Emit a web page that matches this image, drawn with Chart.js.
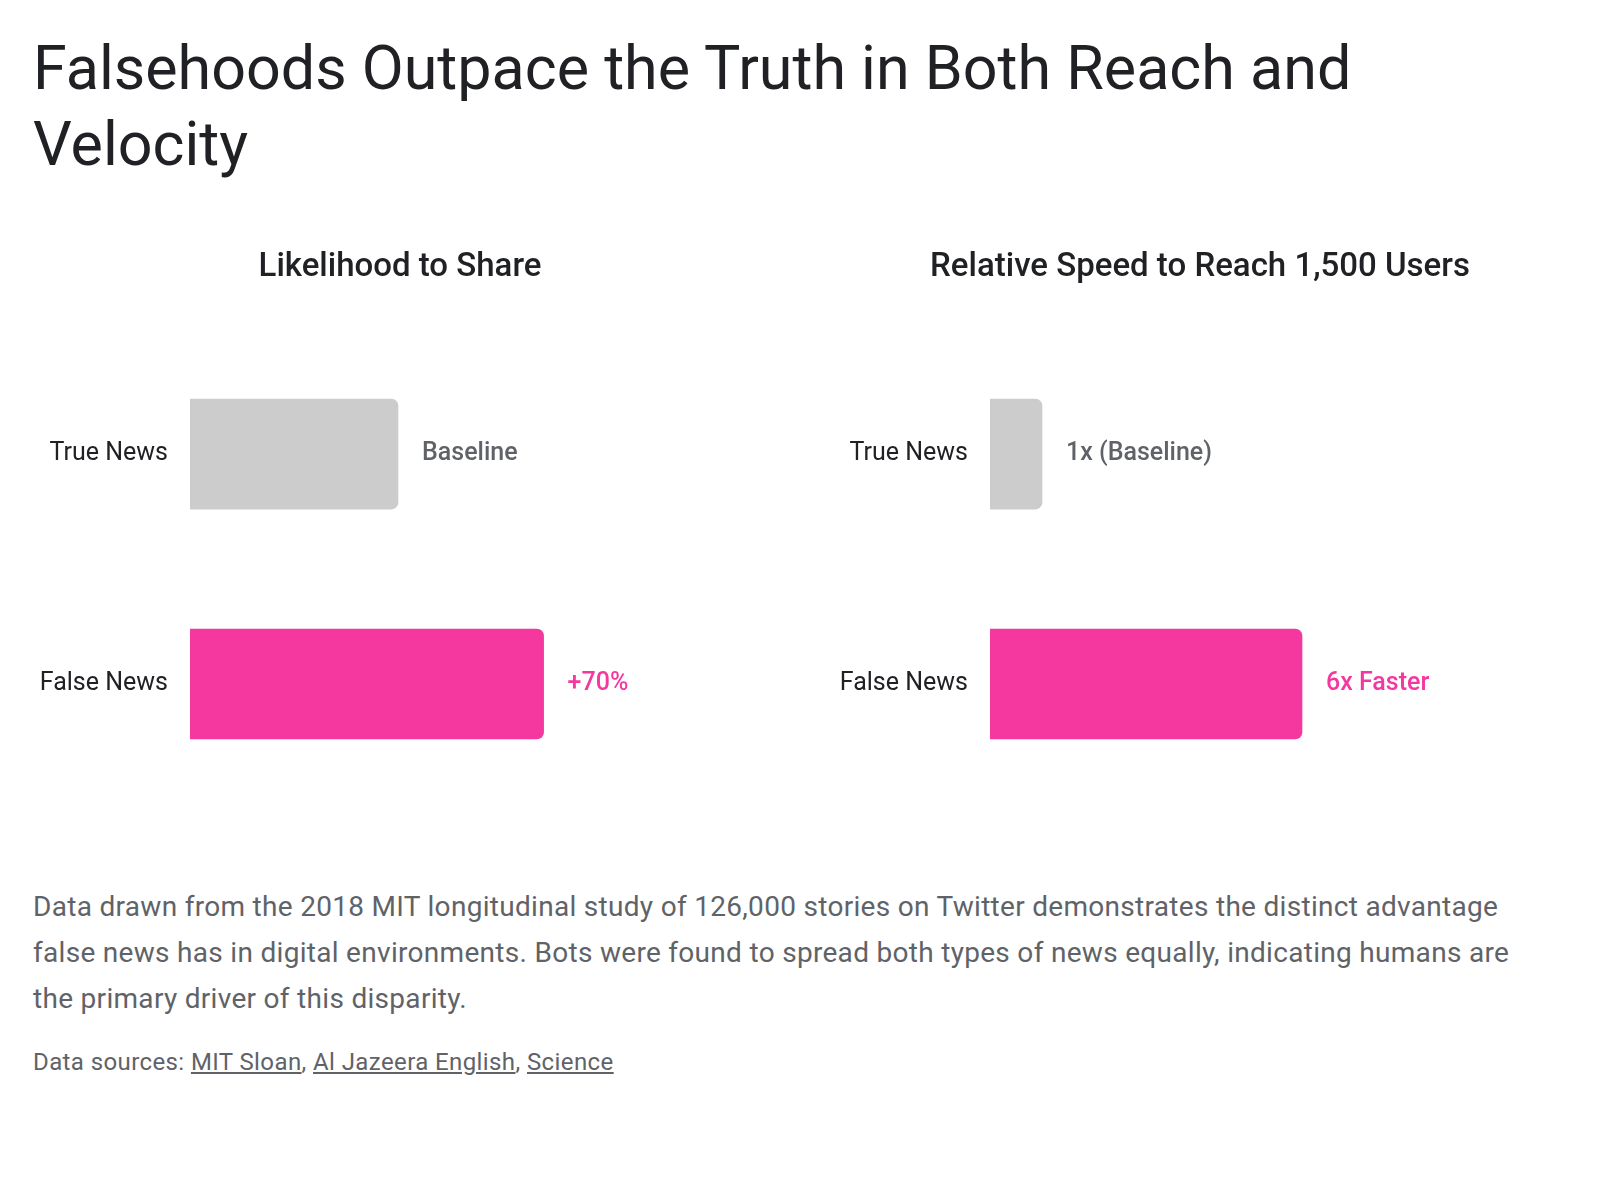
<!DOCTYPE html>
<html>
<head>
<meta charset="utf-8">
<script src="https://cdn.jsdelivr.net/npm/chart.js@4.4.1/dist/chart.umd.min.js"></script>
<style>
  body { margin: 0; background: #fff; font-family: Roboto, "Noto Sans", sans-serif; }
  .page { position: relative; width: 1600px; height: 1200px; }
  h1 { position: absolute; left: 33px; top: 30px; margin: 0; font-weight: 400; font-size: 61px; line-height: 76px; color: #202124; }
  .panel { position: absolute; top: 220px; width: 800px; height: 616px; }
  .desc { position: absolute; left: 33px; top: 884px; margin: 0; font-size: 28px; line-height: 46px; color: #5f6368; letter-spacing: 0.3px; }
  .src { position: absolute; left: 33px; top: 1048px; margin: 0; font-size: 24px; color: #5f6368; letter-spacing: 0.4px; }
  .src a { color: #5f6368; }
</style>
</head>
<body>
<div class="page">
  <h1>Falsehoods Outpace the Truth in Both Reach and<br>Velocity</h1>
  <div class="panel" style="left:0"><canvas id="share"></canvas></div>
  <div class="panel" style="left:800px"><canvas id="speed"></canvas></div>
  <p class="desc">Data drawn from the 2018 MIT longitudinal study of 126,000 stories on Twitter demonstrates the distinct advantage<br>false news has in digital environments. Bots were found to spread both types of news equally, indicating humans are<br>the primary driver of this disparity.</p>
  <p class="src">Data sources: <a href="#">MIT Sloan</a>, <a href="#">Al Jazeera English</a>, <a href="#">Science</a></p>
</div>
<script>
const categories = ["True News", "False News"];

const shareValues = [1, 1.7];
const shareLabels = ["Baseline", "+70%"];

const speedValues = [1, 6];
const speedLabels = ["1x (Baseline)", "6x Faster"];

const barColors = ["#cccccc", "#f538a0"];
const labelColors = ["#5f6368", "#f538a0"];

// draws the text after each bar end
const endLabels = {
  id: "endLabels",
  afterDatasetsDraw(chart, args, opts) {
    const ctx = chart.ctx;
    const meta = chart.getDatasetMeta(0);
    ctx.save();
    ctx.font = "500 25px Roboto, sans-serif";
    ctx.textBaseline = "middle";
    ctx.textAlign = "left";
    meta.data.forEach((bar, i) => {
      ctx.fillStyle = labelColors[i];
      ctx.fillText(opts.labels[i], bar.x + 24, bar.y);
    });
    ctx.restore();
  }
};

function makeChart(id, title, values, labels, max) {
  new Chart(document.getElementById(id), {
    type: "bar",
    data: {
      labels: categories,
      datasets: [{
        data: values,
        backgroundColor: barColors,
        borderRadius: { topRight: 7, bottomRight: 7, topLeft: 0, bottomLeft: 0 },
        borderSkipped: false,
        barThickness: 110
      }]
    },
    options: {
      indexAxis: "y",
      responsive: true,
      maintainAspectRatio: false,
      animation: false,
      layout: { padding: 0 },
      plugins: {
        legend: { display: false },
        tooltip: { enabled: false },
        title: {
          display: true,
          text: title,
          color: "#202124",
          font: { family: "Roboto, sans-serif", size: 33, weight: "500", lineHeight: 1.2 },
          padding: { top: 28, bottom: 51.5 }
        },
        endLabels: { labels: labels }
      },
      scales: {
        x: { display: false, min: 0, max: max },
        y: {
          grid: { display: false, drawTicks: false },
          border: { display: false },
          ticks: {
            color: "#202124",
            padding: 22,
            font: { family: "Roboto, sans-serif", size: 25 }
          },
          afterFit: s => { s.width = 190; }
        },
        // empty right-hand gutter that keeps room for the end labels
        gutter: {
          type: "linear",
          axis: "y",
          position: "right",
          display: false,
          afterFit: s => { s.width = 90; }
        }
      }
    },
    plugins: [endLabels]
  });
}

makeChart("share", "Likelihood to Share", shareValues, shareLabels, 2.5);
makeChart("speed", "Relative Speed to Reach 1,500 Users", speedValues, speedLabels, 10);
</script>
</body>
</html>
